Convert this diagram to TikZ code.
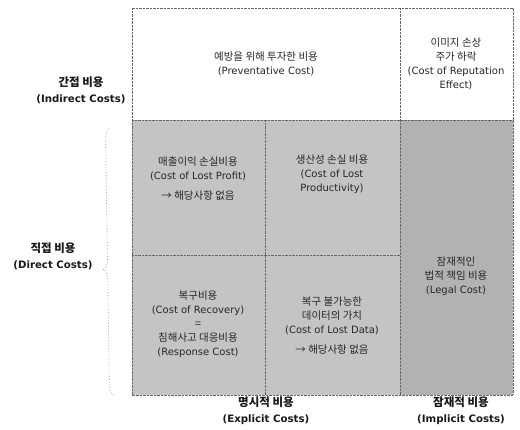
\documentclass[tikz,border=0pt]{standalone}
\usepackage{fontspec}
\setmainfont{Noto Sans CJK KR}
\newfontfamily\lat{DejaVu Sans}
\usetikzlibrary{decorations.pathreplacing}
\newcommand{\En}[1]{{\lat\fontsize{10}{14}\selectfont #1}}
\newcommand{\EnB}[1]{{\lat\bfseries\fontsize{10.2}{16}\selectfont #1}}
\begin{document}
\begin{tikzpicture}[x=1pt,y=-1pt,
  celltext/.style={align=center,font=\fontsize{10.5}{14}\selectfont,text=black!85,inner sep=0pt},
  axislabel/.style={align=center,font=\fontsize{11.5}{16}\selectfont\bfseries,text=black!90,inner sep=0pt},
  gridline/.style={draw=black!60,line width=0.6pt,dash pattern=on 0.7pt off 0.7pt},
  shadeA/.style={fill=black!23},
  shadeB/.style={fill=black!30}]
\useasboundingbox (0,0) rectangle (520,429);
% shaded areas
\fill[shadeA] (132,120) rectangle (400,395);
\fill[shadeB] (400,120) rectangle (513,395);
% grid
\draw[gridline] (132,8) rectangle (513,395);
\draw[gridline] (132,120) -- (513,120);
\draw[gridline] (400,8) -- (400,395);
\draw[gridline] (265,120) -- (265,395);
\draw[gridline] (132,255) -- (400,255);
% cell texts
\node[celltext] (prev) at (266,64) {예방을 위해 투자한 비용\\\En{(Preventative Cost)}};
\node[celltext] (rep) at (456,64) {이미지 손상\\주가 하락\\\En{(Cost of Reputation}\\\En{Effect)}};
\node[celltext] (profit) at (198,179) {매출이익 손실비용\\\En{(Cost of Lost Profit)}\\[6pt]→ 해당사항 없음};
\node[celltext] (prod) at (332,174) {생산성 손실 비용\\\En{(Cost of Lost}\\\En{Productivity)}};
\node[celltext] (recov) at (198,324) {복구비용\\\En{(Cost of Recovery)}\\=\\침해사고 대응비용\\\En{(Response Cost)}};
\node[celltext] (data) at (332,326) {복구 불가능한\\데이터의 가치\\\En{(Cost of Lost Data)}\\[6pt]→ 해당사항 없음};
\node[celltext] (legal) at (456,276) {잠재적인\\법적 책임 비용\\\En{(Legal Cost)}};
% axis labels
\node[axislabel] (indirect) at (81,90) {간접 비용\\\EnB{(Indirect Costs)}};
\node[axislabel] (direct) at (53,256) {직접 비용\\\EnB{(Direct Costs)}};
\node[axislabel] (explicit) at (266,411) {명시적 비용\\\EnB{(Explicit Costs)}};
\node[axislabel] (implicit) at (461,411) {잠재적 비용\\\EnB{(Implicit Costs)}};
% brace
\coordinate (bt) at (110,128);
\coordinate (bb) at (114,395);
\draw[black!45,line width=0.6pt,dash pattern=on 0.8pt off 2pt,decorate,decoration={brace,amplitude=9pt,aspect=0.47}] (bb) -- (bt);
\end{tikzpicture}
\end{document}
